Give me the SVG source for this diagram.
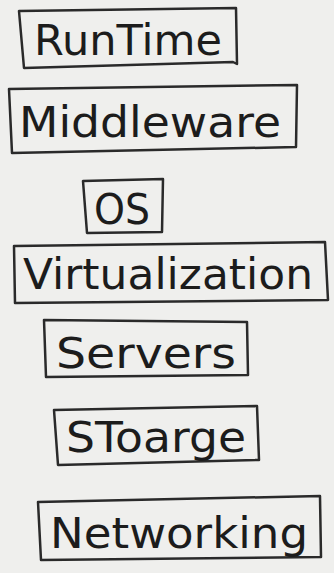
<svg xmlns="http://www.w3.org/2000/svg" width="334" height="573" viewBox="0 0 334 573">
<style>
.box{fill:none;stroke:#2a2a2a;stroke-width:2.5;stroke-linejoin:round}
.lbl{font-family:"DejaVu Sans",sans-serif;font-size:42px;fill:#1c1c1c;text-anchor:middle}
</style>
<rect width="334" height="573" fill="#efefed"/>
<g id="runtime"><path class="box" d="M19,11 L236,8 L237,64 L233,62 L24,68 Z"/><text class="lbl" x="128" y="55" textLength="188" lengthAdjust="spacingAndGlyphs">RunTime</text></g>
<g id="middleware"><path class="box" d="M9,89 L297,85 L296,147 L12,153 Z"/><text class="lbl" x="150" y="137" textLength="262" lengthAdjust="spacingAndGlyphs">Middleware</text></g>
<g id="os"><path class="box" d="M83,181 L163,179 L162,232 L87,233 Z"/><text class="lbl" x="122" y="224" textLength="56" lengthAdjust="spacingAndGlyphs">OS</text></g>
<g id="virtualization"><path class="box" d="M14,246 L325,242 L328,300 L15,303 Z"/><text class="lbl" x="168" y="289" textLength="290" lengthAdjust="spacingAndGlyphs">Virtualization</text></g>
<g id="servers"><path class="box" d="M44,320 L247,322 L248,375 L46,377 Z"/><text class="lbl" x="146" y="368" textLength="180" lengthAdjust="spacingAndGlyphs">Servers</text></g>
<g id="storage"><path class="box" d="M54,410 L257,406 L259,460 L58,465 Z"/><text class="lbl" x="156" y="452" textLength="180" lengthAdjust="spacingAndGlyphs">SToarge</text></g>
<g id="networking"><path class="box" d="M38,502 L320,496 L321,557 L41,560 Z"/><text class="lbl" x="179" y="548" textLength="258" lengthAdjust="spacingAndGlyphs">Networking</text></g>
<g id="connectors"></g>
</svg>
